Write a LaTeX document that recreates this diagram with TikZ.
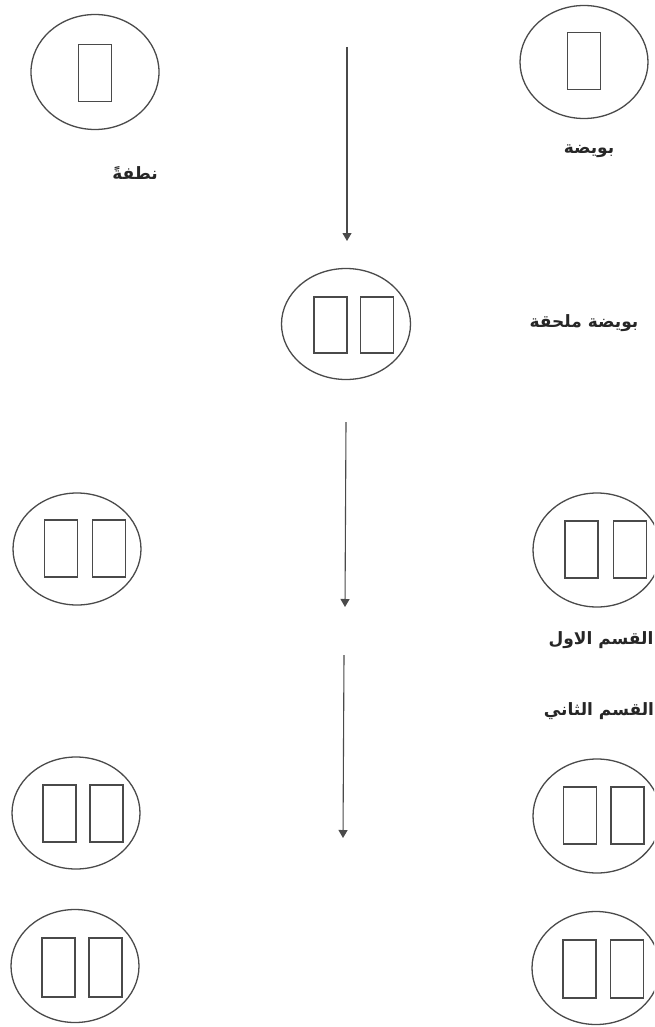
\documentclass[tikz,border=0pt]{standalone}
\usepackage{fontspec}
\usetikzlibrary{arrows.meta,shapes.geometric}
\newfontfamily\arabicfont[Script=Arabic]{DejaVu Sans}
\TeXXeTstate=1
\definecolor{inkgray}{HTML}{4A4A4A}
\begin{document}
\begin{tikzpicture}[x=1pt,y=-1pt,
  cell/.style={draw=inkgray,line width=1.3pt,ellipse,inner sep=0pt,
               minimum width=128pt,minimum height=113pt},
  chrom/.style={draw=inkgray,line width=1.2pt,rectangle,inner sep=0pt,
                minimum width=33pt,minimum height=57pt},
  lbl/.style={font=\arabicfont\bfseries\fontsize{17}{20}\selectfont,
              text=black!85,inner sep=0pt},
  flow/.style={draw=inkgray,line width=1.1pt,-{Triangle[width=9pt,length=8pt]}}]
\useasboundingbox (0,0) rectangle (654,1027);
\clip (0,0) rectangle (654,1027);

% sperm and egg
\node[cell,minimum height=115pt] (sperm) at (95,72) {};
\node[chrom] (spermN) at (95,73) {};
\node[lbl] (spermL) at (135,173) {\beginR نطفةً\endR};

\node[cell,minimum height=113pt] (egg) at (584,62) {};
\node[chrom] (eggN) at (584,61) {};
\node[lbl] (eggL) at (589,151) {\beginR بويضة\endR};

% fertilised egg
\node[cell,minimum width=129pt,minimum height=111pt] (zyg) at (346,324) {};
\node[chrom,minimum height=56pt] (zygA) at (330.5,325) {};
\node[chrom,minimum height=56pt] (zygB) at (377,325) {};
\node[lbl] (zygL) at (584,323) {\beginR بويضة ملحقة\endR};

% first division
\node[cell,minimum height=112pt] (d1L) at (77,549) {};
\node[chrom] (d1La) at (61,548.5) {};
\node[chrom] (d1Lb) at (109,548.5) {};

\node[cell,minimum height=114pt] (d1R) at (597,550) {};
\node[chrom] (d1Ra) at (581.5,549.5) {};
\node[chrom] (d1Rb) at (630,549.5) {};
\node[lbl] (d1T) at (601,640) {\beginR القسم الاول\endR};
\node[lbl] (d2T) at (599,711) {\beginR القسم الثاني\endR};

% second division
\node[cell,minimum height=112pt] (d2La) at (76,813) {};
\node[chrom] (d2La1) at (59.5,813.5) {};
\node[chrom] (d2La2) at (106.5,813.5) {};
\node[cell,minimum height=113pt] (d2Lb) at (75,966) {};
\node[chrom,minimum height=59pt] (d2Lb1) at (58.5,967.5) {};
\node[chrom,minimum height=59pt] (d2Lb2) at (105.5,967.5) {};

\node[cell,minimum height=114pt] (d2Ra) at (597,816) {};
\node[chrom] (d2Ra1) at (580,815.5) {};
\node[chrom] (d2Ra2) at (627.5,815.5) {};
\node[cell,minimum height=113pt] (d2Rb) at (596,968) {};
\node[chrom,minimum height=58pt] (d2Rb1) at (579.5,969) {};
\node[chrom,minimum height=58pt] (d2Rb2) at (627,969) {};

% process arrows
\coordinate (a1s) at (347,47);  \coordinate (a1e) at (347,241);
\coordinate (a2s) at (346,422); \coordinate (a2e) at (345,607);
\coordinate (a3s) at (344,655); \coordinate (a3e) at (343,838);
\draw[flow] (a1s) -- (a1e);
\draw[flow] (a2s) -- (a2e);
\draw[flow] (a3s) -- (a3e);
\end{tikzpicture}
\end{document}
